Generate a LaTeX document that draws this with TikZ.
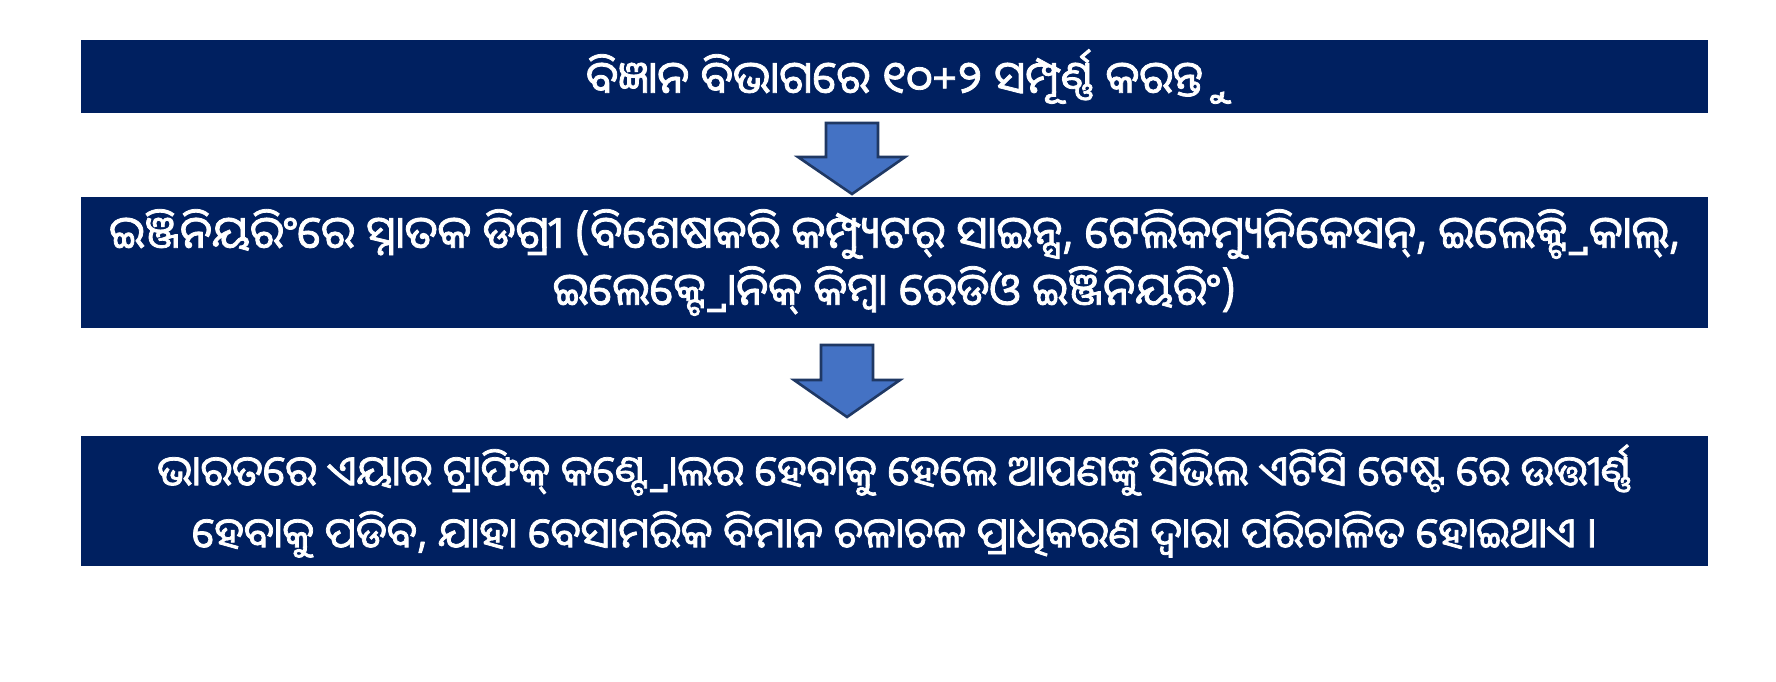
\documentclass[tikz,border=0pt]{standalone}
\usepackage{fontspec}
\newfontfamily\odia[Script=Oriya, FakeBold=1.8]{Noto Sans Oriya UI}
\definecolor{boxblue}{HTML}{002060}
\definecolor{arrowfill}{HTML}{4472C4}
\definecolor{arrowline}{HTML}{1F3864}
\tikzset{
  stepbox/.style={fill=boxblue, draw=none, text=white, inner sep=0pt, align=center,
     font=\odia\fontsize{44.8}{57}\selectfont},
  blockarrow/.style={fill=arrowfill, draw=arrowline, line width=2.6pt, line join=miter}
}
\begin{document}
\begin{tikzpicture}[x=1pt,y=-1pt]
\useasboundingbox (0,0) rectangle (1776,681);
\fill[white] (0,0) rectangle (1776,681);
% boxes
\fill[boxblue] (81,40) rectangle (1708,113);
\node[stepbox] (b1) at (894.5,76.5) {ବିଜ୍ଞାନ ବିଭାଗରେ ୧୦+୨ ସମ୍ପୂର୍ଣ୍ଣ କରନ୍ତୁ};
\fill[boxblue] (81,197) rectangle (1708,328);
\node[stepbox] (b2) at (894.5,262.5) {ଇଞ୍ଜିନିୟରିଂରେ ସ୍ନାତକ ଡିଗ୍ରୀ (ବିଶେଷକରି କମ୍ପ୍ୟୁଟର୍ ସାଇନ୍ସ, ଟେଲିକମ୍ୟୁନିକେସନ୍, ଇଲେକ୍ଟ୍ରିକାଲ୍,\\ଇଲେକ୍ଟ୍ରୋନିକ୍ କିମ୍ବା ରେଡିଓ ଇଞ୍ଜିନିୟରିଂ)};
\fill[boxblue] (81,436) rectangle (1708,566);
\node[stepbox, font=\odia\fontsize{42}{62}\selectfont] (b3) at (894.5,501) {ଭାରତରେ ଏୟାର ଟ୍ରାଫିକ୍ କଣ୍ଟ୍ରୋଲର ହେବାକୁ ହେଲେ ଆପଣଙ୍କୁ ସିଭିଲ ଏଟିସି ଟେଷ୍ଟ ରେ ଉତ୍ତୀର୍ଣ୍ଣ\\ହେବାକୁ ପଡିବ, ଯାହା ବେସାମରିକ ବିମାନ ଚଳାଚଳ ପ୍ରାଧିକରଣ ଦ୍ୱାରା ପରିଚାଳିତ ହୋଇଥାଏ ।};
% block arrows
\draw[blockarrow] (826,123) -- (878,123) -- (878,157) -- (905,157) -- (852,194) -- (798,157) -- (826,157) -- cycle;
\draw[blockarrow] (821,345) -- (873,345) -- (873,380) -- (900,380) -- (847,417) -- (794,380) -- (821,380) -- cycle;
\end{tikzpicture}
\end{document}
